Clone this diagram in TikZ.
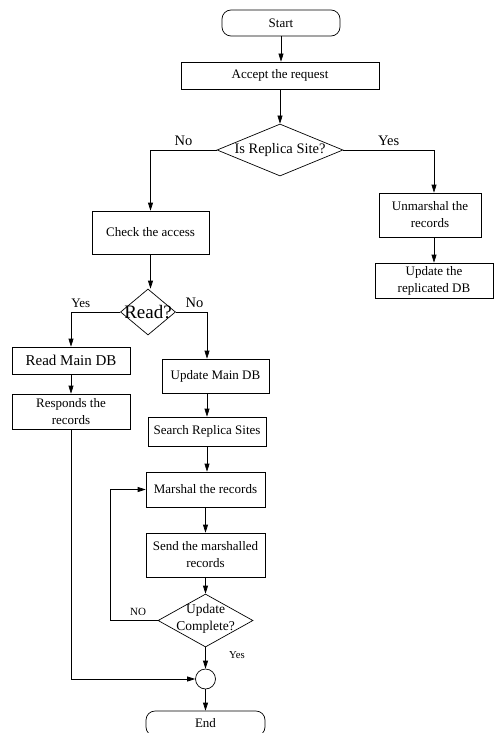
\documentclass[tikz,border=0pt]{standalone}
\usepackage{fontspec}
\setmainfont{Liberation Serif}
\usetikzlibrary{shapes.geometric}
\usetikzlibrary{arrows.meta}
\tikzset{box/.style={rectangle,draw,line width=0.7pt,inner sep=0pt,align=center,font=\fontsize{13}{17}\selectfont},
         term/.style={rectangle,rounded corners=9pt,draw,line width=0.7pt,inner sep=0pt,font=\fontsize{13}{16}\selectfont},
  dia/.style={diamond,draw,line width=0.7pt,inner sep=0pt},
  jn/.style={circle,draw,line width=0.7pt,minimum size=20pt,inner sep=0pt},
  arr/.style={line width=0.7pt,-{Triangle[length=8pt,width=5pt]}},
  ln/.style={line width=0.7pt}
         }

\begin{document}
\begin{tikzpicture}[x=1pt,y=-1pt]
  \useasboundingbox (0,0) rectangle (495,733);

  \node[term,minimum width=118pt,minimum height=26pt] (start) at (281,23) {Start};
  \node[box,minimum width=198pt,minimum height=27pt] (acc) at (280,75.5) {Accept the request};
  \node[dia,minimum width=126pt,minimum height=52pt] (rep) at (280,150) {};
  \node[font=\fontsize{14.5}{17}\selectfont] (reptxt) at (rep) {Is Replica Site?};
  \node[box,minimum width=117pt,minimum height=43pt] (chk) at (150.5,232.5) {Check the access};
  \node[box,minimum width=102pt,minimum height=44pt] (unm) at (430,215) {Unmarshal the\\records};
  \node[box,minimum width=118pt,minimum height=35pt] (rdb) at (434,280.5) {Update the\\replicated DB};
  \node[dia,minimum width=55pt,minimum height=46pt] (rd) at (148,312) {};
  \node[font=\fontsize{19}{20}\selectfont] (rdtxt) at (rd) {Read?};
  \node[box,minimum width=118pt,minimum height=27pt,font=\fontsize{15}{17}\selectfont] (rmain) at (71,360.5) {Read Main DB};
  \node[box,minimum width=118pt,minimum height=35pt] (resp) at (71,411.5) {Responds the\\records};
  \node[box,minimum width=107pt,minimum height=34pt] (umain) at (215.5,376) {Update Main DB};
  \node[box,minimum width=118pt,minimum height=29pt] (srch) at (207,431.5) {Search Replica Sites};
  \node[box,minimum width=119pt,minimum height=35pt] (msh) at (205.5,489.5) {Marshal the records};
  \node[box,minimum width=119pt,minimum height=44pt] (snd) at (205.5,555) {Send the marshalled\\records};
  \node[dia,minimum width=95pt,minimum height=53pt] (comp) at (205.5,620.5) {};
  \node[align=center,font=\fontsize{13.5}{17}\selectfont] (comptxt) at (205.5,619) {Update\\Complete?};
  \node[jn] (jn) at (205.5,679) {};
  \node[term,minimum width=119pt,minimum height=25pt] (end) at (205.5,723.5) {End};

  \draw[arr] (start) -- (start |- acc.north);
  \draw[arr] (acc) -- (rep);
  \draw[arr] (rep.west) -| (chk.north) node[pos=0.25,above=1pt,font=\fontsize{14.5}{17}\selectfont] {No};
  \draw[arr] (rep.east) -| ([xshift=4pt]unm.north) node[pos=0.25,above=1pt,font=\fontsize{14.5}{17}\selectfont] {Yes};
  \draw[arr] ([xshift=4pt]unm.south) -- (rdb.north);
  \draw[arr] (chk.south) -- (chk.south |- rd.north);
  \draw[arr] (rd.west) -| (rmain.north) node[pos=0.4,above=1pt,font=\fontsize{13}{16}\selectfont] {Yes};
  \draw[arr] (rd.east) -| (umain.north -| srch.north) node[pos=0.3,above=1pt,font=\fontsize{14.5}{17}\selectfont] {No};
  \draw[arr] (rmain) -- (resp);
  \draw[arr] (umain.south -| srch.north) -- (srch.north);
  \draw[arr] (srch.south) -- (srch.south |- msh.north);
  \draw[arr] (msh) -- (snd);
  \draw[arr] (snd) -- (comp);
  \draw[arr] (comp.west) -- ++(-47,0) |- (msh.west);
  \node[font=\fontsize{11}{13}\selectfont] (nolab) at (138,611.5) {NO};
  \draw[arr] (comp) -- (jn);
  \node[font=\fontsize{10.7}{13}\selectfont] (yeslab) at (237,655) {Yes};
  \draw[arr] (resp.south) |- (jn.west);
  \draw[arr] (jn) -- (end);
\end{tikzpicture}
\end{document}
